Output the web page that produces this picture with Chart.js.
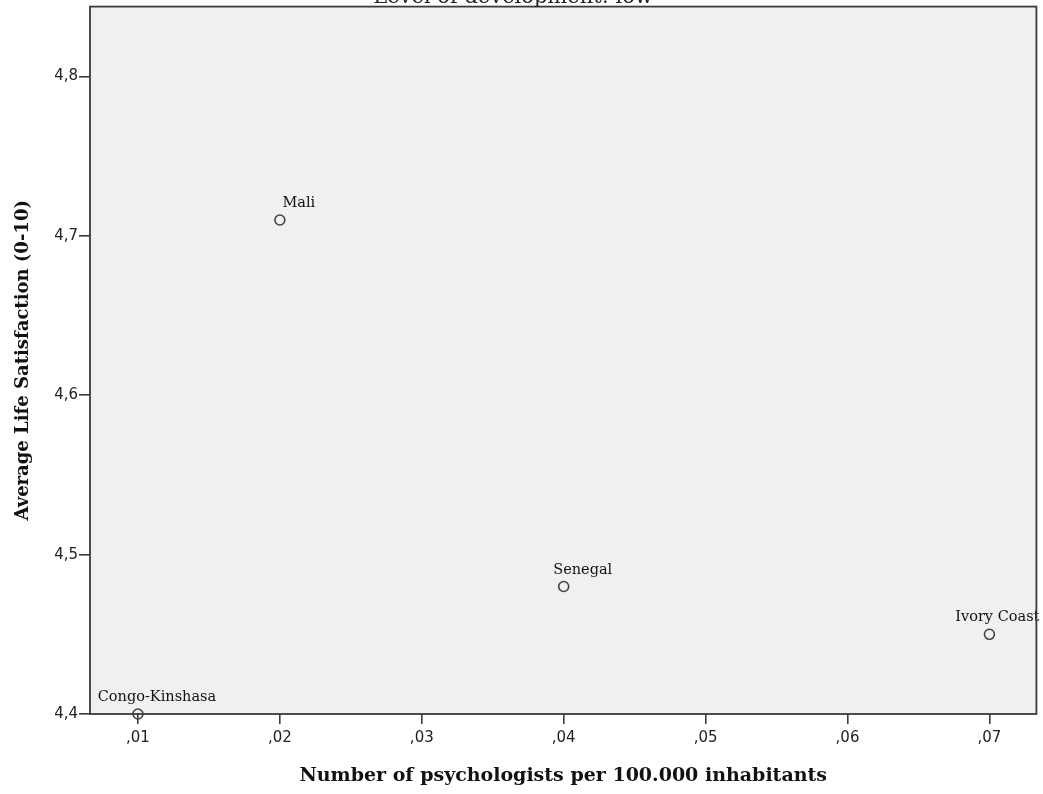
<!DOCTYPE html>
<html>
<head>
<meta charset="utf-8">
<script src="https://cdn.jsdelivr.net/npm/chart.js@4.4.0/dist/chart.umd.min.js"></script>
<style>
  html, body { margin: 0; padding: 0; background: #fff; }
  #wrap { width: 1043px; height: 794px; position: relative; }
</style>
</head>
<body>
<div id="wrap"><canvas id="scatterChart"></canvas></div>
<script>
// --- data ---
const countries = ['Congo-Kinshasa', 'Mali', 'Senegal', 'Ivory Coast'];
const psychologists = [0.01, 0.02, 0.04, 0.07];
const satisfaction = [4.40, 4.71, 4.48, 4.45];
const xTicks = [0.01, 0.02, 0.03, 0.04, 0.05, 0.06, 0.07];
const yTicks = [4.4, 4.5, 4.6, 4.7, 4.8];
const chartTitle = 'Level of development: low';

const SERIF = '"DejaVu Serif", "Liberation Serif", serif';
const SANS = '"DejaVu Sans", sans-serif';

// background + frame of the plot area, and the (clipped) title
const framePlugin = {
    id: 'frame',
    beforeDraw(chart) {
        const { ctx, chartArea: a } = chart;
        ctx.save();
        ctx.fillStyle = '#f0f0f0';
        ctx.fillRect(a.left, a.top, a.right - a.left, a.bottom - a.top);
        ctx.restore();
    },
    afterDraw(chart) {
        const { ctx, chartArea: a } = chart;
        ctx.save();
        ctx.strokeStyle = '#3a3a3a';
        ctx.lineWidth = 1.8;
        ctx.strokeRect(a.left, a.top, a.right - a.left, a.bottom - a.top);
        ctx.fillStyle = '#222';
        ctx.font = '21px ' + SERIF;
        ctx.textAlign = 'center';
        ctx.textBaseline = 'alphabetic';
        ctx.fillText(chartTitle, 513, 3);
        ctx.restore();
    }
};

// country names above the markers
const labelPlugin = {
    id: 'pointLabels',
    afterDatasetsDraw(chart) {
        const { ctx, chartArea: a } = chart;
        const meta = chart.getDatasetMeta(0);
        ctx.save();
        ctx.font = '14.5px ' + SERIF;
        ctx.fillStyle = '#111';
        ctx.textAlign = 'center';
        ctx.textBaseline = 'alphabetic';
        meta.data.forEach((pt, i) => {
            const w = ctx.measureText(countries[i]).width;
            let cx = pt.x + 19;
            if (cx + w / 2 > a.right + 3) cx = a.right + 3 - w / 2;
            ctx.fillText(countries[i], cx, pt.y - 13);
        });
        ctx.restore();
    }
};

new Chart(document.getElementById('scatterChart'), {
    type: 'scatter',
    data: {
        datasets: [{
            data: psychologists.map((x, i) => ({ x, y: satisfaction[i] })),
            pointRadius: 5,
            pointHoverRadius: 5,
            pointBorderWidth: 1.6,
            pointBorderColor: '#444',
            pointBackgroundColor: 'rgba(0,0,0,0)'
        }]
    },
    options: {
        responsive: true,
        maintainAspectRatio: false,
        animation: false,
        clip: false,
        layout: { padding: { top: 6, right: 6, left: 0, bottom: 0 } },
        plugins: { legend: { display: false }, tooltip: { enabled: false } },
        scales: {
            x: {
                type: 'linear',
                min: 0.00662,
                max: 0.07331,
                afterBuildTicks: s => { s.ticks = xTicks.map(v => ({ value: v })); },
                afterFit: s => { s.height = 80; s.paddingLeft = 0; s.paddingRight = 0; },
                grid: { drawOnChartArea: false, tickLength: 10, color: '#3a3a3a', lineWidth: 1.6 },
                border: { display: false },
                ticks: {
                    color: '#222',
                    font: { family: SANS, size: 15 },
                    padding: 5,
                    maxRotation: 0,
                    callback: v => v.toFixed(2).replace('0.', ',')
                },
                title: {
                    display: true,
                    text: 'Number of psychologists per 100.000 inhabitants',
                    color: '#111',
                    font: { family: SERIF, size: 19, weight: 'bold' },
                    padding: { top: 7, bottom: 7 }
                }
            },
            y: {
                type: 'linear',
                min: 4.4,
                max: 4.8439,
                afterBuildTicks: s => { s.ticks = yTicks.map(v => ({ value: v })); },
                afterFit: s => { s.width = 90; s.paddingTop = 0; s.paddingBottom = 0; },
                grid: { drawOnChartArea: false, tickLength: 11, color: '#3a3a3a', lineWidth: 1.6 },
                border: { display: false },
                ticks: {
                    color: '#222',
                    font: { family: SANS, size: 15 },
                    padding: 1,
                    callback: v => v.toFixed(1).replace('.', ',')
                },
                title: {
                    display: true,
                    text: 'Average Life Satisfaction (0-10)',
                    color: '#111',
                    font: { family: SERIF, size: 18, weight: 'bold' },
                    padding: { top: 13, bottom: 13 }
                }
            }
        }
    },
    plugins: [framePlugin, labelPlugin]
});
</script>
</body>
</html>
